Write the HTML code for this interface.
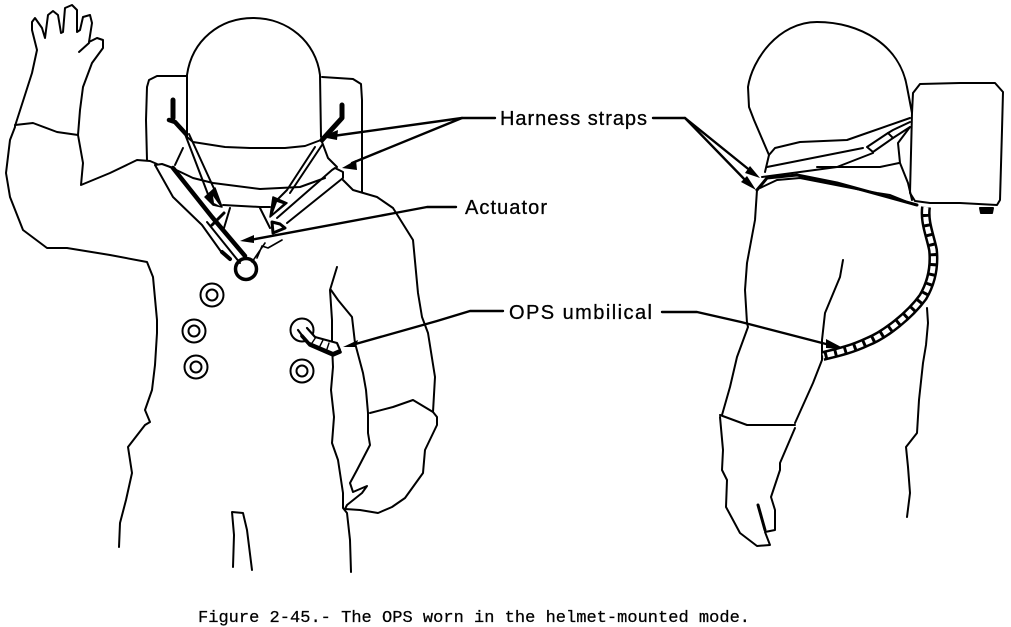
<!DOCTYPE html>
<html><head><meta charset="utf-8"><style>
html,body{margin:0;padding:0;background:#fff}
svg{display:block}
.l{fill:none;stroke:#000;stroke-width:2;stroke-linejoin:round;stroke-linecap:round}
.t{font-family:"Liberation Sans",sans-serif;font-size:20px;fill:#000;stroke:#000;stroke-width:.3}
.c{font-family:"Liberation Mono",monospace;font-size:17px;fill:#000;stroke:#000;stroke-width:.25}
</style></head><body>
<svg width="1011" height="627" viewBox="0 0 1011 627" xmlns="http://www.w3.org/2000/svg">
<g class="l">
<!-- hand & arm -->
<path d="M15 126L24 98L32 73L37 50L32 30L32 22L35 18L42 28L45 38L48 15L53 11L58 15L61 33L63 32L65 8L72 5L77 10L77 32L80 30L83 17L90 15L92 23L89 42L97 38L103 40L103 48L92 63L83 87L80 110L78 135"/>
<path d="M79 52L89 43"/>
<path d="M15 125L33 123L57 132L78 135"/>
<path d="M15 127L10 140L6 173L10 197L23 230L47 248L67 248L110 255L147 262L153 277L157 320L157 333L155 365L152 390L145 410L150 422L145 425L128 447L132 473L126 500L120 523L119 547"/>
<path d="M78 135L83 163L81 185L110 173L137 160L150 161L157 164"/>
<!-- helmet -->
<path d="M187 137L187 75C192 40 220 18 253 18C288 18 316 42 320 75L321 137"/>
<path d="M187 137L193 142L225 147L250 148L285 148L305 146L321 140"/>
<!-- backpack -->
<path d="M187 76L157 76L149 80L147 87L146 120L147 160"/>
<path d="M322 77L353 79L361 84L362 100L362 192"/>
<!-- neck -->
<path d="M183 148L175 165"/>
<path d="M170 167L193 178L213 183L260 189L300 187L325 178"/>
<path d="M322 142L328 158L337 167"/>
<path d="M223 205L260 207L270 207"/>
<path d="M230 208L224 228M260 208L270 228"/>
<!-- right shoulder & body -->
<path d="M343 180L353 190L377 197L393 208L413 240L418 293L422 317L428 333L435 377L433 412"/>
<path d="M337 267L330 290L332 320L332 345L333 367L331 390L334 417L332 443L338 460L343 493L343 508L347 513L350 540L351 572"/>
<path d="M331 290L338 300L352 317L355 343L363 373L366 390L368 413"/>
<!-- glove -->
<path d="M368 413L368 433L370 445L357 470L350 483L353 492L367 486L362 493L347 505L345 509L360 510L378 513L392 507L405 498L423 473L425 450L437 425L437 417L433 412L413 400L393 407L370 413"/>
<!-- crotch -->
<path d="M233 567L234 535L232 512L243 513L247 530L252 570"/>
<!-- rings -->
<circle cx="212" cy="295" r="11.5"/><circle cx="212" cy="295" r="5.5"/>
<circle cx="194" cy="331" r="11.5"/><circle cx="194" cy="331" r="5.5"/>
<circle cx="196" cy="367" r="11.5"/><circle cx="196" cy="367" r="5.5"/>
<circle cx="302" cy="330" r="11.5"/>
<circle cx="302" cy="371" r="11.5"/><circle cx="302" cy="371" r="5.5"/>
<circle cx="246" cy="269" r="10.5" stroke-width="3.5" fill="#fff"/>
<!-- left straps -->
<path d="M173 100L173 118" stroke-width="5"/>
<path d="M169 120L175 122L186 134" stroke-width="4.5"/>
<path d="M185 134L209 197M189 134L216 193" stroke-width="2"/>
<path d="M205 197L215 188L222 207L213 205Z" fill="#000" stroke-width="1.5"/>
<path d="M213 196L220 206L214 203Z" fill="#fff" stroke="none"/>
<path d="M155 165L162 164L173 168L212 217"/>
<path d="M155 165L173 197L202 225L222 253"/>
<path d="M173 168L212 217L245 256" stroke-width="4.5"/>
<path d="M207 222L240 263"/>
<path d="M222 252L230 259" stroke-width="4"/>
<path d="M212 225L224 213" stroke-width="3"/>
<!-- right straps -->
<path d="M342 105L342 118L322 140" stroke-width="5"/>
<path d="M315 147L287 190L276 201M322 145L290 193" stroke-width="2"/>
<path d="M273 197L287 203L270 217Z" fill="#000" stroke-width="1.5"/>
<path d="M277 202L283 204L273 213Z" fill="#fff" stroke="none"/>
<path d="M332 170L277 218M332 170L335 168L343 172L343 178L287 223"/>
<path d="M272 222L273 233L285 228L280 224Z" stroke-width="3"/>
<path d="M265 243L252 262M282 240L268 248L262 246L257 258" stroke-width="1.6"/>
<!-- chest tube -->
<path d="M298 330L307 342L333 353L340 350L337 343L315 337L307 328" stroke-width="2.2" fill="#fff"/>
<path d="M302 336L310 345L333 355L340 352" stroke-width="3.6"/>
<path d="M312 343L316 337M320 346L323 340M327 349L329 343" stroke-width="1.4"/>
<!-- leaders -->
<path d="M333 136L462 118L495 118" stroke-width="2.4"/>
<path d="M352 163L462 118" stroke-width="2.4"/>
<path d="M250 240L395 213L427 207L456 207" stroke-width="2.4"/>
<path d="M352 345L437 321L470 311L503 311" stroke-width="2.4"/>
<path d="M653 118L685 118L752 172" stroke-width="2.4"/>
<path d="M685 118L749 184" stroke-width="2.4"/>
<path d="M662 312L697 312L741 322L826 344" stroke-width="2.4"/>
</g>
<!-- arrowheads -->
<g fill="#000">
<path d="M321 137L338 130L337 140Z"/><path d="M342 168L356 160L357 170Z"/>
<path d="M240 241L254 235L254 243Z"/><path d="M343 347L358 340L356 347Z"/>
<path d="M760 178L750 166L745 173Z"/><path d="M756 190L747 176L741 182Z"/>
<path d="M845 349L826 339L826 348Z"/>
</g>
<g class="l">
<!-- right helmet -->
<path d="M769 155L754 120L749 107L748 87C752 60 778 22 817 22C860 22 900 45 907 87L912 113"/>
<!-- backpack -->
<path d="M912 113L913 93L920 84L960 83L995 83L1003 92L1002 130L1000 200L997 205L960 203L930 203L915 201L910 193Z" fill="#fff"/>
<path d="M980 208L993 208L992 213L981 213Z" fill="#000"/>
<!-- straps -->
<path d="M769 155L775 148L800 142L847 140L867 133L910 118"/>
<path d="M765 172L769 155"/>
<path d="M767 167L863 148"/>
<path d="M762 177L800 172L837 167L873 153"/>
<path d="M867 147L888 133L893 138L873 152Z" fill="#fff"/>
<path d="M888 133L893 130L910 122M893 138L910 127"/>
<path d="M817 167L880 167L899 163"/>
<path d="M898 143L900 163L908 183L912 200M898 143L910 127"/>
<path d="M757 190L767 178L797 175L837 183L917 205" stroke-width="3"/>
<path d="M760 188L777 180L800 178L877 193L890 195L915 205"/>
<!-- arm/body -->
<path d="M757 190L755 220L747 263L745 290L747 323L748 327L737 357L730 387L722 415"/>
<path d="M843 260L840 277L825 313L822 340L822 360L813 383L795 423"/>
<path d="M720 417L723 450L722 470L727 480L726 507L740 533L757 546L770 545L765 532L775 530L775 510L771 497L780 470L780 463L795 428"/>
<path d="M720 415L747 425L795 425"/>
<path d="M758 505L765 530" stroke-width="3"/>
<path d="M927 308L928 323L926 345L923 363L919 400L917 433L906 447L908 467L910 493L907 517"/>
</g>
<!-- umbilical -->
<path d="M926 207C924 222 930 235 933 250C935 270 930 285 923 297C910 315 885 335 867 342C850 350 835 353 823 356" fill="none" stroke="#000" stroke-width="10"/>
<path d="M926 207C924 222 930 235 933 250C935 270 930 285 923 297C910 315 885 335 867 342C850 350 835 353 823 356" fill="none" stroke="#fff" stroke-width="5" stroke-dasharray="7 3"/>
<!-- labels -->
<text class="t" x="500" y="125" textLength="147">Harness straps</text>
<text class="t" x="465" y="214" textLength="82">Actuator</text>
<text class="t" x="509" y="319" textLength="143">OPS umbilical</text>
<text class="c" x="198" y="622" textLength="552">Figure 2-45.- The OPS worn in the helmet-mounted mode.</text>
</svg>
</body></html>
